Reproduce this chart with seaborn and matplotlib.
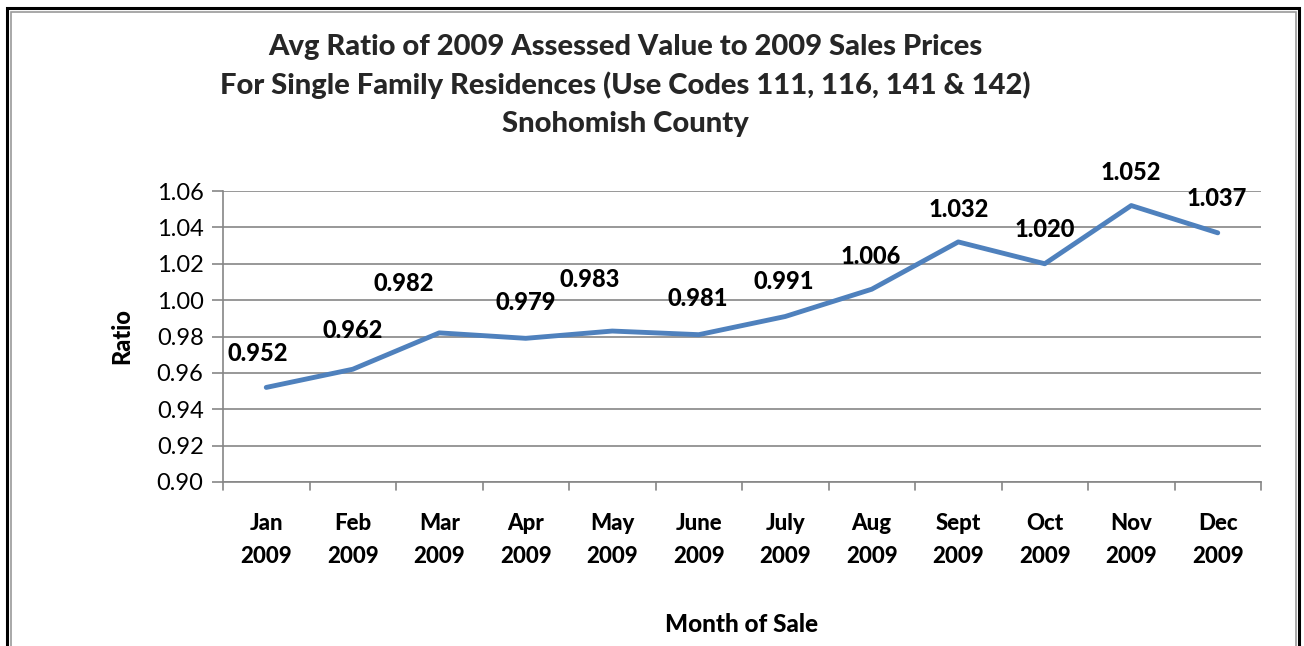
import matplotlib
matplotlib.use("Agg")
import matplotlib.pyplot as plt
import seaborn as sns
import pandas as pd
from matplotlib.patches import Rectangle

months = ["Jan\n2009", "Feb\n2009", "Mar\n2009", "Apr\n2009", "May\n2009", "June\n2009",
          "July\n2009", "Aug\n2009", "Sept\n2009", "Oct\n2009", "Nov\n2009", "Dec\n2009"]
ratios = [0.952, 0.962, 0.982, 0.979, 0.983, 0.981, 0.991, 1.006, 1.032, 1.020, 1.052, 1.037]
y_ticks = [0.90, 0.92, 0.94, 0.96, 0.98, 1.00, 1.02, 1.04, 1.06]

# label offsets in pixels (style/position, separate from data)
label_offsets = [(-8, 34), (0, 39), (-36, 49), (0, 36), (-23, 52), (-1, 36),
                 (-1, 35), (-1, 33), (0, 32), (0, 34), (0, 33), (-1, 34)]

sns.set_theme(style="white")
plt.rcParams['font.family'] = ['Lato', 'DejaVu Sans']
BOLD = 900

df = pd.DataFrame({"month": months, "ratio": ratios, "idx": range(len(months))})

fig = plt.figure(figsize=(13.04, 6.46), dpi=100)
ax = fig.add_axes([223/1304, 1-482/646, (1261-223)/1304, (482-191)/646])

sns.lineplot(data=df, x="idx", y="ratio", ax=ax, color="#4F81BD", linewidth=3.5,
             sort=False, zorder=3)

ax.set_xlim(-0.5, len(months) - 0.5)
ax.set_ylim(0.90, 1.06)
ax.set_yticks(y_ticks)
ax.set_yticklabels([f"{v:.2f}" for v in y_ticks], fontsize=17, color="black")
ax.set_xticks(range(len(months)))
ax.set_xticklabels(months, fontsize=16, fontweight=BOLD, color="black", linespacing=1.72)
ax.tick_params(axis="x", length=0, pad=22)
# boundary ticks
for b in [i - 0.5 for i in range(len(months) + 1)]:
    ax.plot([b, b], [0, -0.028], transform=ax.get_xaxis_transform(), color="#868686",
            lw=1.2, clip_on=False, zorder=2)
ax.tick_params(axis="y", length=8, width=1.2, color="#868686", pad=6, left=True)

ax.yaxis.grid(True, color="#868686", linewidth=1.2)
ax.xaxis.grid(False)
for s in ["top", "right"]:
    ax.spines[s].set_visible(False)
for s in ["left", "bottom"]:
    ax.spines[s].set_color("#868686")
    ax.spines[s].set_linewidth(1.2)

ax.set_xlabel("Month of Sale", fontsize=17.5, fontweight=BOLD, color="black", labelpad=33)
ax.set_ylabel("Ratio", fontsize=17, fontweight=BOLD, color="black", labelpad=17)

for i, (v, off) in enumerate(zip(ratios, label_offsets)):
    ax.annotate(f"{v:.3f}", xy=(i, v), xytext=off, textcoords="offset pixels",
                ha="center", va="center", fontsize=17, fontweight=BOLD, color="black",
                zorder=4)

title_lines = ["Avg Ratio of 2009 Assessed Value to 2009 Sales Prices",
               "For Single Family Residences (Use Codes 111, 116, 141 & 142)",
               "Snohomish County"]
for t, yy in zip(title_lines, [47, 85, 124]):
    fig.text(625/1304, 1-yy/646, t, ha="center", va="center", fontsize=21, fontweight=BOLD)

# outer frame
fig.patches.append(Rectangle((7/1304, -0.05), (1299-7)/1304, (646-7)/646 + 0.05 - 1/646,
                             transform=fig.transFigure, fill=False, edgecolor="black",
                             linewidth=2.2, figure=fig))
fig.patches.append(Rectangle((11/1304, -0.05), (1296-11)/1304, (646-11)/646 + 0.05 - 1/646,
                             transform=fig.transFigure, fill=False, edgecolor="#9a9a9a",
                             linewidth=1.2, figure=fig))

fig.savefig("out.png", dpi=100, facecolor="white")
